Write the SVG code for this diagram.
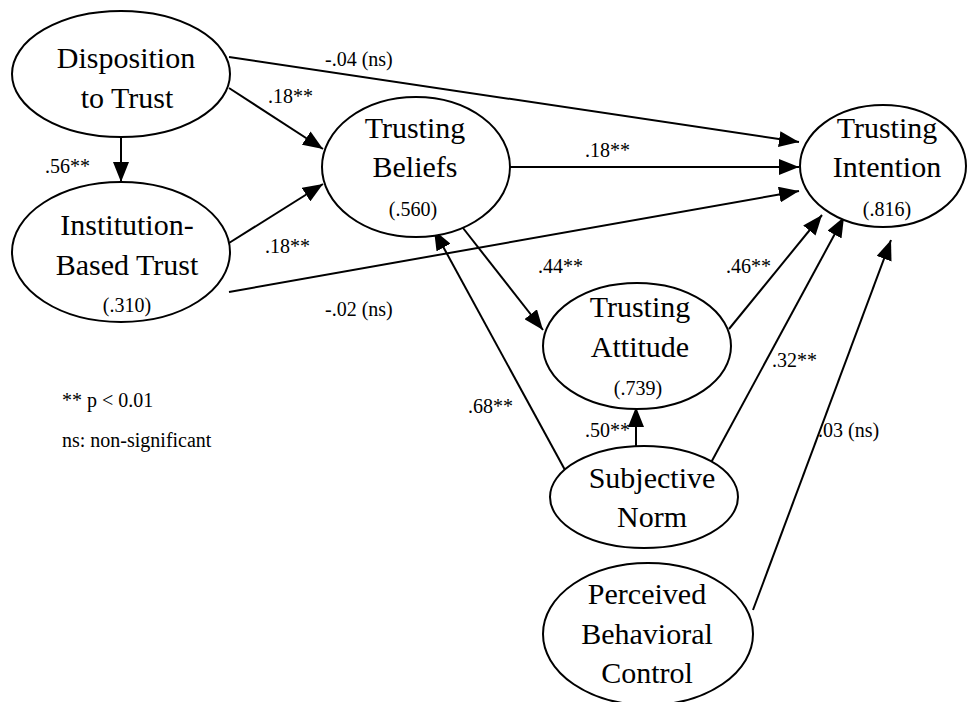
<svg xmlns="http://www.w3.org/2000/svg" width="967" height="702" viewBox="0 0 967 702" font-family="Liberation Serif, DejaVu Serif, serif">
  <style>
    ellipse.shape { fill: #ffffff; stroke: #000000; stroke-width: 2; }
    text.name { font-size: 30px; text-anchor: middle; }
    text.r2 { font-size: 20px; text-anchor: middle; }
    text.label { font-size: 20px; }
    line.edge { stroke: #000000; stroke-width: 2; fill: none; }
  </style>
  <defs>
    <marker id="arrow" markerUnits="userSpaceOnUse" markerWidth="20" markerHeight="16" refX="20" refY="8" orient="auto" viewBox="0 0 20 16">
      <path d="M0,0 L20,8 L0,16 Z" fill="#000000"/>
    </marker>
  </defs>
  <rect x="0" y="0" width="967" height="702" fill="#ffffff"/>

  <!-- paths between constructs -->
  <g id="connectors">
    <line class="edge" x1="229" y1="57" x2="799" y2="142" marker-end="url(#arrow)"/>
    <line class="edge" x1="229" y1="88" x2="323" y2="149" marker-end="url(#arrow)"/>
    <line class="edge" x1="121" y1="137" x2="121" y2="182" marker-end="url(#arrow)"/>
    <line class="edge" x1="229" y1="243" x2="323" y2="184" marker-end="url(#arrow)"/>
    <line class="edge" x1="229" y1="292" x2="799" y2="191" marker-end="url(#arrow)"/>
    <line class="edge" x1="510" y1="167" x2="799" y2="167" marker-end="url(#arrow)"/>
    <line class="edge" x1="463" y1="228" x2="543" y2="330" marker-end="url(#arrow)"/>
    <line class="edge" x1="565" y1="470" x2="434" y2="230" marker-end="url(#arrow)"/>
    <line class="edge" x1="636" y1="447" x2="636" y2="407" marker-end="url(#arrow)"/>
    <line class="edge" x1="729" y1="329" x2="822" y2="215" marker-end="url(#arrow)"/>
    <line class="edge" x1="707" y1="470" x2="844" y2="217" marker-end="url(#arrow)"/>
    <line class="edge" x1="753" y1="610" x2="891" y2="240" marker-end="url(#arrow)"/>
  </g>

  <g id="disposition">
    <ellipse class="shape" cx="121" cy="74" rx="109" ry="63"/>
    <text class="name" x="126" y="68">Disposition</text>
    <text class="name" x="127" y="108">to Trust</text>
  </g>
  <g id="institution">
    <ellipse class="shape" cx="121" cy="252" rx="109" ry="70"/>
    <text class="name" x="127" y="235">Institution-</text>
    <text class="name" x="127" y="275">Based Trust</text>
    <text class="r2" x="127" y="312">(.310)</text>
  </g>
  <g id="beliefs">
    <ellipse class="shape" cx="416" cy="167" rx="94" ry="70"/>
    <text class="name" x="415" y="138">Trusting</text>
    <text class="name" x="415" y="177">Beliefs</text>
    <text class="r2" x="413" y="216">(.560)</text>
  </g>
  <g id="intention">
    <ellipse class="shape" cx="883" cy="166" rx="83" ry="61"/>
    <text class="name" x="887" y="138">Trusting</text>
    <text class="name" x="887" y="177">Intention</text>
    <text class="r2" x="887" y="216">(.816)</text>
  </g>
  <g id="attitude">
    <ellipse class="shape" cx="637" cy="346" rx="94" ry="63"/>
    <text class="name" x="640" y="317">Trusting</text>
    <text class="name" x="640" y="357">Attitude</text>
    <text class="r2" x="638" y="395">(.739)</text>
  </g>
  <g id="subjective">
    <ellipse class="shape" cx="644" cy="497" rx="94" ry="51"/>
    <text class="name" x="652" y="488">Subjective</text>
    <text class="name" x="652" y="527">Norm</text>
  </g>
  <g id="perceived">
    <ellipse class="shape" cx="648" cy="634" rx="105" ry="71"/>
    <text class="name" x="647" y="604">Perceived</text>
    <text class="name" x="647" y="644">Behavioral</text>
    <text class="name" x="647" y="683">Control</text>
  </g>

  <!-- path coefficients -->
  <g id="coefficients">
    <text class="label" x="325" y="66">-.04 (ns)</text>
    <text class="label" x="268" y="103">.18**</text>
    <text class="label" x="45" y="173">.56**</text>
    <text class="label" x="265" y="253">.18**</text>
    <text class="label" x="585" y="157">.18**</text>
    <text class="label" x="538" y="273">.44**</text>
    <text class="label" x="325" y="316">-.02 (ns)</text>
    <text class="label" x="726" y="273">.46**</text>
    <text class="label" x="468" y="413">.68**</text>
    <text class="label" x="585" y="437">.50**</text>
    <text class="label" x="772" y="367">.32**</text>
    <text class="label" x="818" y="437">.03 (ns)</text>
  </g>

  <!-- legend -->
  <g id="legend">
    <text class="label" x="62" y="407">** p &lt; 0.01</text>
    <text class="label" x="62" y="447">ns: non-significant</text>
  </g>
</svg>
